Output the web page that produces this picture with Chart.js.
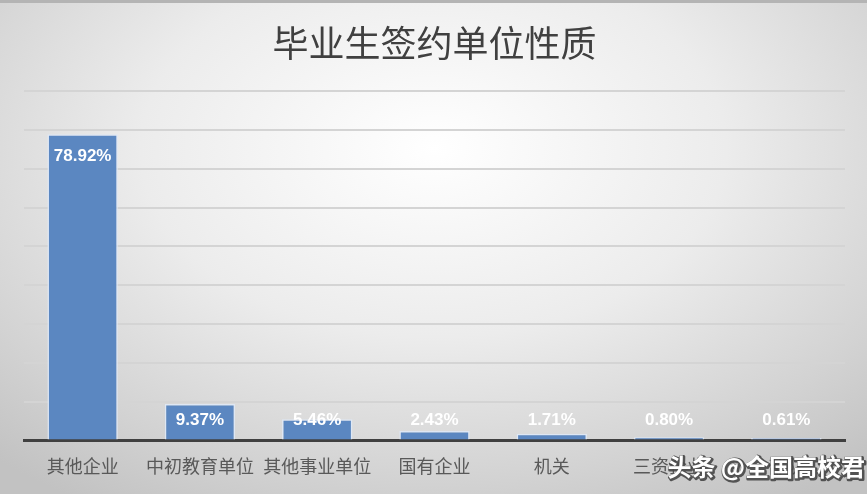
<!DOCTYPE html>
<html>
<head>
<meta charset="utf-8">
<script src="https://cdn.jsdelivr.net/npm/chart.js@4"></script>
<style>
    html, body { margin: 0; padding: 0; }
    body { width: 867px; height: 494px; overflow: hidden; }
    #wrap {
        position: relative;
        width: 867px;
        height: 494px;
        box-shadow: inset 0 3px 0 #b4b4b4;
        background: radial-gradient(ellipse 75% 85% at 50% 30%, #ffffff 0%, #ececec 45%, #d2d2d2 80%, #c2c2c2 100%);
    }
</style>
</head>
<body>
<div id="wrap"><canvas id="unitChart"></canvas></div>
<script>
// Dados do gráfico
const categories = ['其他企业', '中初教育单位', '其他事业单位', '国有企业', '机关', '三资企业', '部队'];
const percentValues = [78.92, 9.37, 5.46, 2.43, 1.71, 0.80, 0.61];
const chartTitle = '毕业生签约单位性质';
const watermark = '头条 @全国高校君';

// Rótulos de valor desenhados sobre as barras
const valueLabels = {
    id: 'valueLabels',
    afterDatasetsDraw(chart) {
        const ctx = chart.ctx;
        const meta = chart.getDatasetMeta(0);
        ctx.save();
        ctx.font = 'bold 17px "Liberation Sans", Arial, sans-serif';
        ctx.fillStyle = '#ffffff';
        ctx.textAlign = 'center';
        ctx.textBaseline = 'middle';
        meta.data.forEach((bar, i) => {
            const y = Math.min(bar.y + 22, bar.base - 19);
            ctx.fillText(percentValues[i].toFixed(2) + '%', bar.x, y);
        });
        ctx.restore();
    },
    afterDraw(chart) {
        // marca d'água no canto inferior direito
        const ctx = chart.ctx;
        ctx.save();
        ctx.font = 'bold 24px "Noto Sans CJK SC", sans-serif';
        ctx.textAlign = 'right';
        ctx.textBaseline = 'middle';
        ctx.lineJoin = 'round';
        ctx.lineWidth = 3;
        ctx.strokeStyle = 'rgba(70,70,70,0.9)';
        ctx.strokeText(watermark, chart.width - 1, 468);
        ctx.fillStyle = '#ffffff';
        ctx.fillText(watermark, chart.width - 2, 467);
        ctx.restore();
    }
};

const ctx = document.getElementById('unitChart').getContext('2d');
const unitChart = new Chart(ctx, {
    type: 'bar',
    data: {
        labels: categories,
        datasets: [{
            data: percentValues,
            backgroundColor: '#5b87c1',
            borderColor: 'rgba(222,232,245,0.95)',
            borderWidth: 1.5,
            barPercentage: 0.6,
            categoryPercentage: 1
        }]
    },
    options: {
        responsive: true,
        maintainAspectRatio: false,
        animation: false,
        layout: { padding: { left: 24, right: 22, top: 0, bottom: 2 } },
        plugins: {
            legend: { display: false },
            tooltip: { enabled: false },
            title: {
                display: true,
                text: chartTitle,
                color: '#404040',
                font: { family: '"Noto Sans CJK SC", sans-serif', size: 36, weight: 'normal' },
                padding: { top: 22, bottom: 26 }
            }
        },
        scales: {
            x: {
                grid: { display: false, drawTicks: false },
                border: { display: true, color: '#404040', width: 3 },
                ticks: {
                    color: '#595959',
                    padding: 15,
                    font: { family: '"Noto Sans CJK SC", sans-serif', size: 18 }
                }
            },
            y: {
                min: 0,
                max: 90,
                ticks: { display: false, stepSize: 10 },
                grid: { color: '#d4d4d4', lineWidth: 2, drawTicks: false },
                border: { display: false }
            }
        }
    },
    plugins: [valueLabels]
});
</script>
</body>
</html>
